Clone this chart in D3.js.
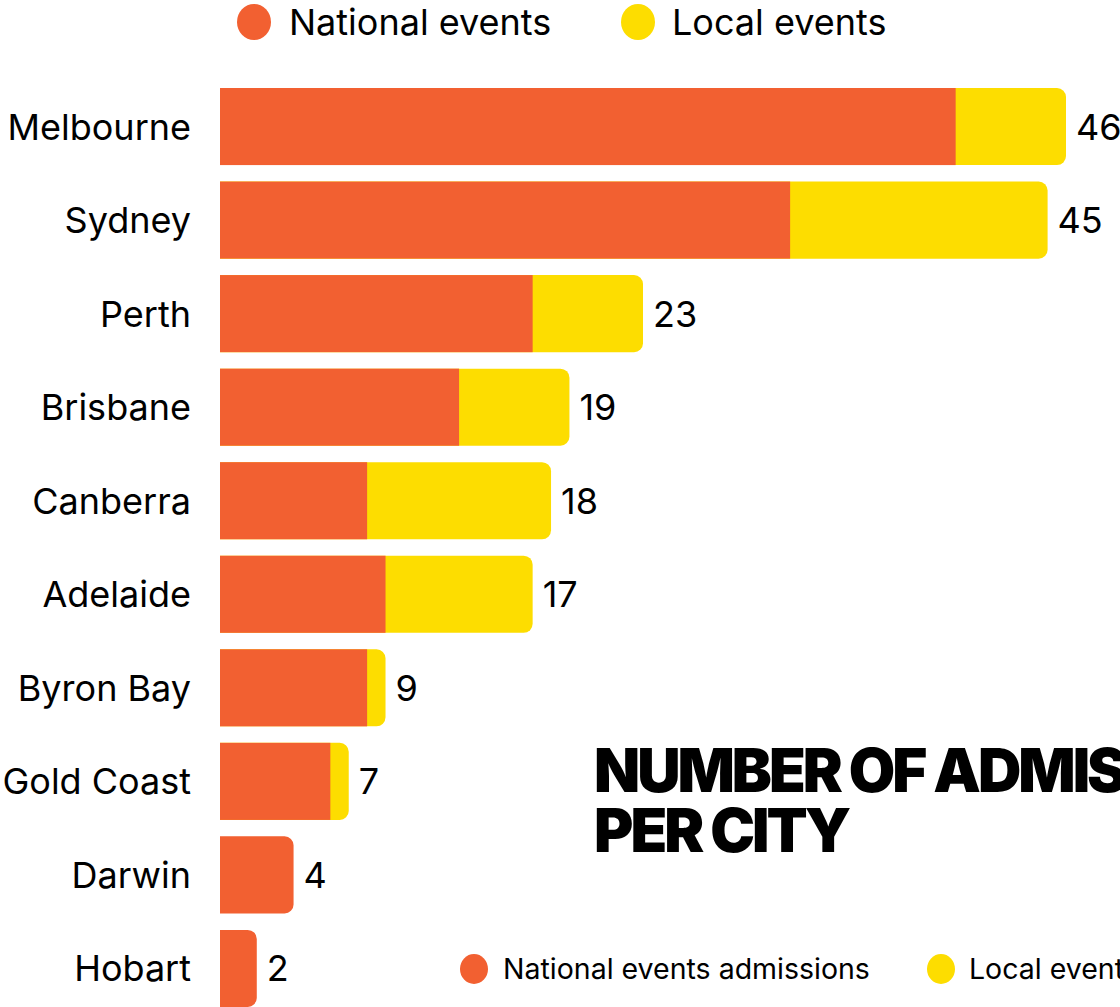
<!DOCTYPE html>
<html>
<head>
<meta charset="utf-8">
<script src="https://cdn.jsdelivr.net/npm/d3@7"></script>
<style>
  html, body { margin: 0; padding: 0; background: #fff; overflow: hidden; }
  svg { display: block; font-family: Inter, "Noto Sans", sans-serif; }
</style>
</head>
<body>
<svg id="chart"></svg>
<script>
// dados
var cities = ["Melbourne", "Sydney", "Perth", "Brisbane", "Canberra", "Adelaide", "Byron Bay", "Gold Coast", "Darwin", "Hobart"];
var national = [40, 31, 17, 13, 8, 9, 8, 6, 4, 2];
var local = [6, 14, 6, 6, 10, 8, 1, 1, 0, 0];
var seriesNames = ["National events", "Local events"];
var bottomNames = ["National events admissions", "Local events admissions"];
var colors = ["#f26031", "#fddd00"];

var width = 1120, height = 1007;

var svg = d3.select("#chart")
   .attr("width", width)
   .attr("height", height);

// escalas
var x = d3.scaleLinear().domain([0, 46]).range([220, 1066]);
var y = d3.scaleBand().domain(cities).range([88, 1007]).paddingInner(0.176).paddingOuter(0);

var r = 9;

// forma com cantos arredondados só do lado direito
function rightRounded(x0, y0, w, h, rad) {
   rad = Math.min(rad, w, h / 2);
   return "M" + x0 + "," + y0 +
      "H" + (x0 + w - rad) +
      "A" + rad + "," + rad + " 0 0 1 " + (x0 + w) + "," + (y0 + rad) +
      "V" + (y0 + h - rad) +
      "A" + rad + "," + rad + " 0 0 1 " + (x0 + w - rad) + "," + (y0 + h) +
      "H" + x0 + "Z";
}

var rows = cities.map(function(c, i) {
   return {city: c, nat: national[i], loc: local[i], total: national[i] + local[i]};
});

var g = svg.append("g");

rows.forEach(function(d) {
   var y0 = y(d.city), h = y.bandwidth();
   // barra total arredondada (amarela), depois nacional por cima
   if (d.loc > 0) {
      g.append("path")
         .attr("d", rightRounded(x(0), y0, x(d.total) - x(0), h, r))
         .attr("fill", colors[1]);
      g.append("rect")
         .attr("x", x(0))
         .attr("y", y0)
         .attr("width", x(d.nat) - x(0))
         .attr("height", h)
         .attr("fill", colors[0]);
   } else {
      g.append("path")
         .attr("d", rightRounded(x(0), y0, x(d.nat) - x(0), h, r))
         .attr("fill", colors[0]);
   }
   // rótulo do valor
   g.append("text")
      .attr("x", x(d.total) + 10)
      .attr("y", y0 + h / 2)
      .attr("dy", "0.36em")
      .attr("font-size", 36)
      .attr("fill", "#000")
      .text(d.total);
});

// eixo y (nomes das cidades)
var yAxis = d3.axisLeft(y).tickSize(0).tickPadding(0);
svg.append("g")
   .attr("transform", "translate(191,0)")
   .call(yAxis)
   .call(function(s) { s.select(".domain").remove(); })
   .selectAll("text")
   .attr("font-size", 36)
   .attr("font-family", "Inter, 'Noto Sans', sans-serif")
   .attr("fill", "#000")
   .attr("dy", "0.36em");

// legenda superior
var topLegend = svg.append("g");
[[254, 289], [638, 672]].forEach(function(p, i) {
   topLegend.append("ellipse")
      .attr("cx", p[0]).attr("cy", 22)
      .attr("rx", 17).attr("ry", 18)
      .attr("fill", colors[i]);
   topLegend.append("text")
      .attr("x", p[1]).attr("y", 22)
      .attr("dy", "0.36em")
      .attr("font-size", 36)
      .text(seriesNames[i]);
});

// título
var title = svg.append("text")
   .attr("x", 594)
   .attr("font-size", 60)
   .attr("font-weight", 900)
   .attr("letter-spacing", -3)
   .attr("fill", "#000");
title.append("tspan").attr("x", 594).attr("y", 792).text("NUMBER OF ADMISSIONS");
title.append("tspan").attr("x", 594).attr("y", 852).text("PER CITY");

// legenda inferior
[[474, 503], [941, 969]].forEach(function(p, i) {
   svg.append("ellipse")
      .attr("cx", p[0]).attr("cy", 969)
      .attr("rx", 14).attr("ry", 15)
      .attr("fill", colors[i]);
   svg.append("text")
      .attr("x", p[1]).attr("y", 969)
      .attr("dy", "0.36em")
      .attr("font-size", 28.5)
      .text(bottomNames[i]);
});
</script>
</body>
</html>
